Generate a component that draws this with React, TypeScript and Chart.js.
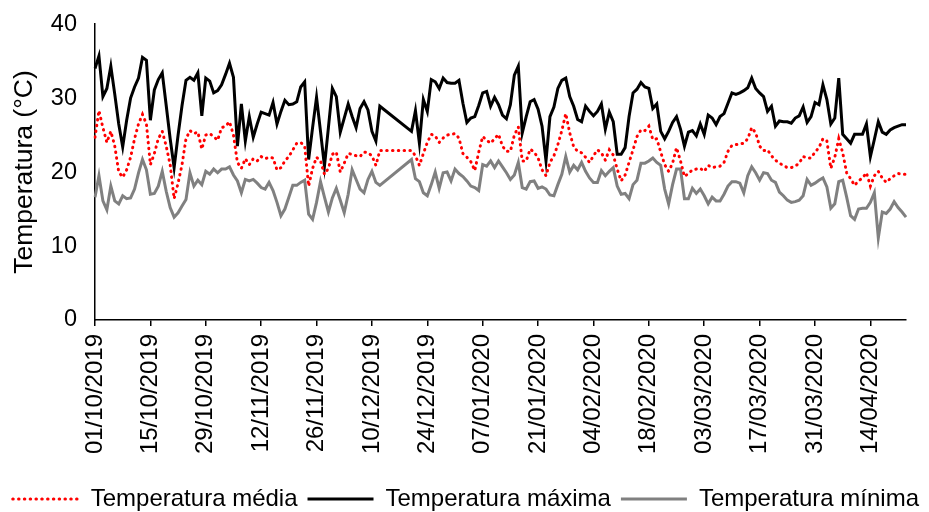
import React, { useEffect, useRef } from "react";
import { Chart, registerables } from "chart.js";

Chart.register(...registerables);

const FONT = "'Liberation Sans', Arial, Helvetica, sans-serif";

// Daily series from 01/10/2019 (index 0) to 23/04/2020 (index 205); null = missing days
const MEAN_T: (number | null)[] = [
  24.7, 28.3, 26.0, 24.0, 25.5, 23.5, 20.0, 19.3, 20.3, 22.0,
  24.5, 26.5, 27.8, 26.5, 21.0, 22.5, 24.5, 25.5, 23.5, 21.0,
  16.4, 18.5, 21.0, 24.5, 25.6, 25.2, 25.4, 23.1, 25.0, 25.2,
  24.8, 24.3, 26.0, 26.2, 26.8, 25.0, 21.3, 20.5, 21.8, 21.0,
  21.8, 21.5, 22.1, 21.8, 22.0, 21.9, 20.3, 20.6, 21.5, 22.1,
  23.0, 23.9, 24.0, 23.5, 18.1, 20.5, 22.0, 21.5, 19.7, 20.5,
  22.4, 22.7, 20.0, 21.2, 22.5, 22.4, 22.2, 22.1, 22.7, 22.6,
  22.2, 20.9, 22.9, null, null, null, null, null, null, null,
  22.9, 22.2, 20.9, 22.5, 24.0, 25.1, 24.9, 24.0, 24.6, 25.0,
  25.1, 25.2, 24.6, 22.5, 22.0, 21.4, 20.2, 22.7, 24.8, 24.3,
  23.9, 24.5, 25.1, 23.5, 22.8, 22.8, 25.0, 26.1, 21.5, 21.5,
  23.1, 22.7, 21.9, 20.3, 19.5, 21.3, 22.2, 23.7, 25.6, 27.9,
  25.3, 23.4, 22.8, 22.6, 22.0, 21.3, 22.2, 23.0, 22.6, 21.6,
  23.0, 22.3, 20.4, 18.8, 19.6, 21.3, 23.0, 24.8, 25.7, 25.6,
  26.2, 24.4, 24.5, 22.7, 21.0, 20.1, 21.2, 23.3, 21.5, 19.4,
  19.8, 20.3, 20.4, 20.5, 20.1, 20.9, 20.6, 20.7, 20.8, 21.3,
  22.8, 23.6, 23.7, 23.8, 23.9, 24.5, 26.0, 25.3, 23.5, 22.9,
  23.0, 22.2, 21.6, 21.2, 20.9, 20.6, 20.6, 20.8, 21.2, 22.1,
  21.9, 21.9, 22.7, 23.3, 24.5, 24.2, 20.5, 22.0, 24.5, 22.6,
  19.9, 19.1, 18.2, 18.8, 19.2, 19.9, 18.1, 19.5, 20.1, 19.2,
  18.6, 19.1, 19.5, 19.8, 19.7, 19.7,
];

const MAX_T: (number | null)[] = [
  34.0, 35.7, 30.2, 31.3, 34.3, 30.5, 26.5, 23.4, 27.0, 30.0,
  31.5, 32.7, 35.5, 35.1, 27.0, 31.1, 32.5, 33.4, 29.0, 24.5,
  20.6, 25.0, 29.0, 32.4, 32.8, 32.4, 33.4, 27.6, 32.7, 32.3,
  30.7, 31.0, 31.8, 33.2, 34.7, 32.8, 23.5, 29.2, 24.2, 27.5,
  24.7, 26.5, 28.1, 27.9, 27.7, 29.4, 26.5, 28.2, 29.7, 29.1,
  29.2, 29.5, 31.5, 32.2, 21.7, 26.0, 30.1, 25.5, 20.8, 26.0,
  31.3, 30.2, 25.4, 27.3, 29.2, 27.5, 26.0, 28.6, 29.5, 28.4,
  25.5, 24.2, 28.9, null, null, null, null, null, null, null,
  25.5, 28.3, 23.9, 29.8, 28.2, 32.5, 32.2, 31.3, 32.7, 32.1,
  32.0, 32.0, 32.4, 29.3, 26.7, 27.3, 27.5, 29.0, 30.7, 30.9,
  28.9, 30.1, 29.1, 27.7, 27.2, 29.1, 33.1, 34.3, 25.3, 27.5,
  29.5, 29.8, 28.5, 26.2, 21.5, 27.5, 28.8, 31.3, 32.4, 32.7,
  30.2, 28.9, 27.1, 26.8, 28.9, 28.2, 27.6, 28.2, 29.2, 25.8,
  28.1, 26.8, 22.4, 22.4, 23.3, 27.5, 30.7, 31.2, 32.1, 31.5,
  31.3, 28.6, 29.2, 25.5, 24.5, 25.5, 26.7, 27.5, 25.8, 23.5,
  25.4, 25.6, 24.9, 26.5, 25.1, 27.7, 27.3, 26.4, 27.5, 27.9,
  29.3, 30.7, 30.5, 30.7, 31.0, 31.4, 32.7, 31.3, 30.7, 30.2,
  28.2, 28.9, 26.2, 26.9, 26.8, 26.8, 26.6, 27.3, 27.6, 28.8,
  26.7, 27.5, 29.4, 29.1, 31.8, 29.8, 26.5, 27.3, 32.7, 25.1,
  24.5, 23.9, 25.1, 25.1, 25.1, 26.5, 22.1, 24.4, 26.8, 25.4,
  25.1, 25.7, 26.0, 26.2, 26.4, 26.4,
];

const MIN_T: (number | null)[] = [
  16.6, 19.5, 16.1, 14.9, 18.1, 16.1, 15.7, 16.8, 16.4, 16.5,
  17.7, 19.9, 21.7, 20.3, 17.0, 17.1, 18.1, 20.1, 17.4, 15.2,
  13.9, 14.5, 15.4, 16.3, 19.9, 18.1, 18.9, 18.3, 20.1, 19.7,
  20.4, 19.9, 20.4, 20.4, 20.7, 19.6, 18.8, 17.2, 19.0, 18.8,
  19.0, 18.5, 17.9, 17.7, 18.6, 17.5, 15.9, 14.1, 15.0, 16.6,
  18.2, 18.2, 18.6, 18.9, 14.3, 13.6, 15.9, 18.7, 16.6, 14.6,
  16.5, 17.8, 16.2, 14.5, 17.0, 20.3, 19.0, 17.7, 17.2, 19.0,
  20.1, 18.6, 18.2, null, null, null, null, null, null, null,
  21.7, 19.1, 18.7, 17.2, 16.8, 18.3, 20.0, 17.8, 19.9, 20.0,
  18.8, 20.4, 19.8, 19.4, 18.8, 18.1, 17.9, 17.5, 21.0, 20.8,
  21.5, 20.6, 21.5, 20.7, 19.9, 19.0, 19.6, 21.3, 17.9, 17.7,
  18.7, 18.8, 17.8, 18.0, 17.7, 16.9, 16.8, 18.3, 19.7, 22.1,
  20.0, 20.9, 20.3, 21.3, 20.1, 19.2, 18.6, 18.6, 20.2, 19.5,
  20.1, 20.6, 18.1, 17.0, 17.1, 16.4, 18.3, 18.9, 21.2, 21.2,
  21.5, 21.9, 21.3, 20.9, 17.7, 15.7, 18.3, 20.4, 20.4, 16.4,
  16.4, 17.8, 17.1, 17.7, 16.8, 15.7, 16.6, 16.1, 16.1, 17.0,
  18.1, 18.7, 18.7, 18.5, 17.2, 19.5, 20.7, 19.9, 18.9, 19.9,
  19.8, 18.9, 18.6, 17.3, 16.8, 16.2, 15.9, 16.0, 16.2, 16.8,
  19.0, 18.2, 18.5, 18.9, 19.2, 18.0, 15.1, 15.7, 18.7, 18.9,
  16.6, 14.1, 13.6, 15.0, 15.1, 15.1, 15.9, 17.2, 11.1, 14.6,
  14.4, 15.0, 16.0, 15.2, 14.6, 13.9,
];

const SERIES_LABELS = ["Temperatura média", "Temperatura máxima", "Temperatura mínima"];
const Y_TICKS = [0, 10, 20, 30, 40];
const Y_TITLE = "Temperatura (°C)";
const TICK_EVERY = 14;

const START_UTC = Date.UTC(2019, 9, 1);
const DATES: string[] = MAX_T.map((_, i) => {
  const d = new Date(START_UTC + i * 86400000);
  const dd = String(d.getUTCDate()).padStart(2, "0");
  const mm = String(d.getUTCMonth() + 1).padStart(2, "0");
  return `${dd}/${mm}/${d.getUTCFullYear()}`;
});

export default function App() {
  const ref = useRef<HTMLCanvasElement | null>(null);

  useEffect(() => {
    document.body.style.margin = "0";
    document.body.style.overflow = "hidden";
    document.documentElement.style.overflow = "hidden";
    const canvas = ref.current;
    if (!canvas) return;

    const chart = new Chart(canvas, {
      type: "line",
      data: {
        labels: DATES,
        datasets: [
          {
            label: SERIES_LABELS[0],
            data: MEAN_T,
            borderColor: "#FF0000",
            backgroundColor: "#FF0000",
            borderWidth: 3,
            borderDash: [0.5, 5.3],
            borderCapStyle: "round",
            pointRadius: 0,
            tension: 0,
            spanGaps: true,
          },
          {
            label: SERIES_LABELS[1],
            data: MAX_T,
            borderColor: "#000000",
            backgroundColor: "#000000",
            borderWidth: 3,
            pointRadius: 0,
            tension: 0,
            spanGaps: true,
          },
          {
            label: SERIES_LABELS[2],
            data: MIN_T,
            borderColor: "#808080",
            backgroundColor: "#808080",
            borderWidth: 3,
            pointRadius: 0,
            tension: 0,
            spanGaps: true,
          },
        ],
      },
      options: {
        animation: false,
        responsive: false,
        maintainAspectRatio: false,
        layout: { padding: { left: 0, right: 0, top: 9, bottom: 9 } },
        plugins: {
          tooltip: { enabled: false },
          legend: {
            position: "bottom",
            align: "end",
            labels: {
              usePointStyle: true,
              pointStyle: "line",
              pointStyleWidth: 66,
              boxHeight: 24,
              padding: 10,
              color: "#000",
              font: { family: FONT, size: 24 },
              generateLabels: (ch: any) =>
                ch.data.datasets.map((ds: any, i: number) => ({
                  text: ds.label,
                  fillStyle: ds.borderColor,
                  strokeStyle: ds.borderColor,
                  lineWidth: ds.borderWidth,
                  lineDash: ds.borderDash || [],
                  lineCap: ds.borderCapStyle || "butt",
                  pointStyle: "line",
                  hidden: false,
                  datasetIndex: i,
                  fontColor: "#000",
                })),
            },
          },
        },
        scales: {
          x: {
            type: "category",
            ticks: {
              autoSkip: false,
              maxRotation: 90,
              minRotation: 90,
              padding: 8,
              color: "#000",
              font: { family: FONT, size: 24 },
              callback: (_v: any, i: number) => (i % TICK_EVERY === 0 ? DATES[i] : null),
            },
            grid: {
              display: true,
              drawOnChartArea: false,
              drawTicks: true,
              tickLength: 6,
              color: "#000",
              lineWidth: 1.5,
            },
            border: { display: true, color: "#000", width: 1.5 },
            afterFit: (s: any) => {
              s.height = 157;
            },
          },
          y: {
            min: Y_TICKS[0],
            max: Y_TICKS[Y_TICKS.length - 1],
            afterBuildTicks: (s: any) => {
              s.ticks = Y_TICKS.map((v) => ({ value: v }));
            },
            ticks: {
              padding: 10,
              color: "#000",
              font: { family: FONT, size: 23.5 },
            },
            grid: { display: false },
            border: { display: true, color: "#000", width: 1.5 },
            title: {
              display: true,
              text: Y_TITLE,
              color: "#000",
              font: { family: FONT, size: 26.5 },
              padding: { top: 9, bottom: 0 },
            },
            afterFit: (s: any) => {
              s.width = 95;
            },
          },
          yR: {
            position: "right",
            display: true,
            min: 0,
            max: 40,
            ticks: { display: false },
            grid: { display: false },
            border: { display: false },
            afterFit: (s: any) => {
              s.width = 23;
            },
          },
        },
      } as any,
    });

    return () => chart.destroy();
  }, []);

  return (
    <div style={{ width: 929, height: 530 }}>
      <canvas ref={ref} width={929} height={530} style={{ display: "block" }} />
    </div>
  );
}
